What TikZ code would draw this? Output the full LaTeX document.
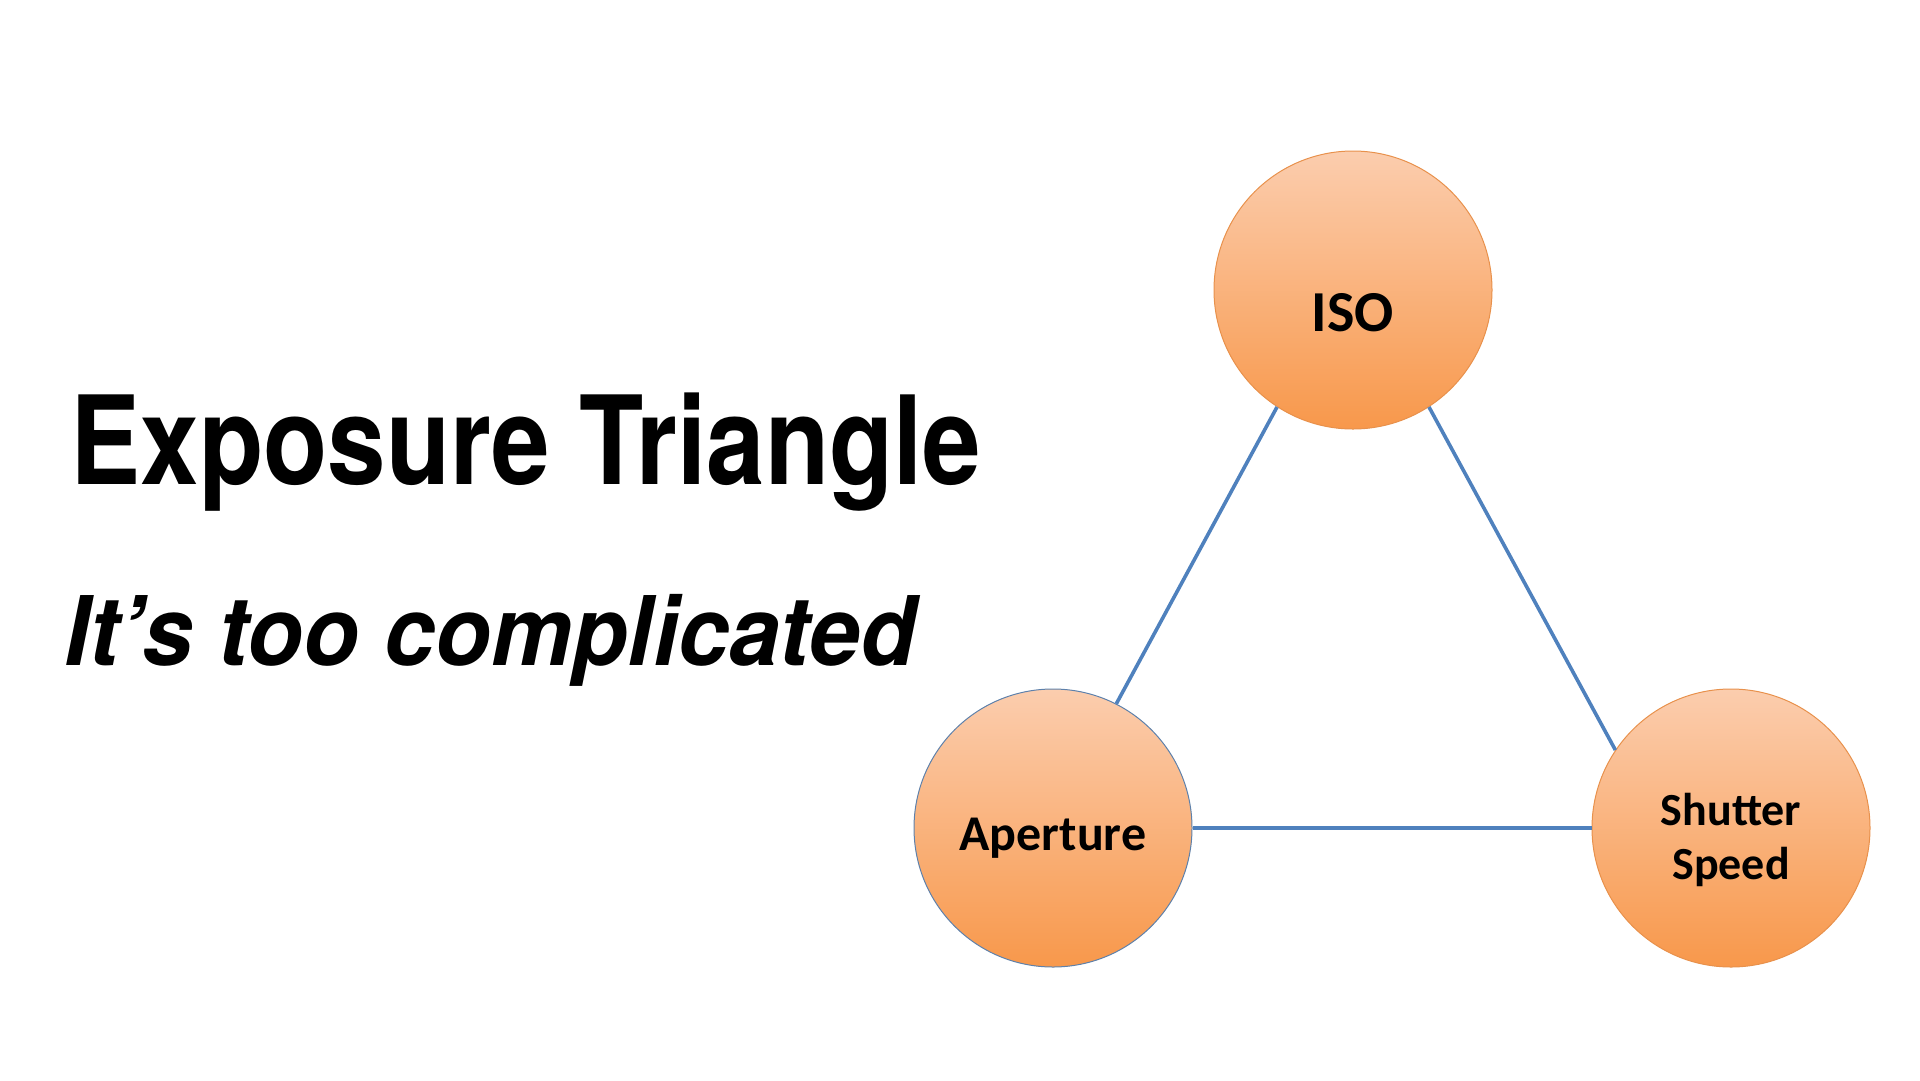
\documentclass[tikz,border=0pt]{standalone}
\usepackage{fontspec}
\usepackage{graphicx}
\usepackage{tikz}
\usetikzlibrary{arrows,positioning}
\setmainfont{TeX Gyre Heros}
\newfontfamily\calfont{Carlito}
\definecolor{peachtop}{HTML}{FBCDAE}
\definecolor{peachbot}{HTML}{F8984B}
\definecolor{ringorange}{HTML}{E8914C}
\definecolor{linkblue}{HTML}{4F81BD}

\begin{document}
\begin{tikzpicture}[x=1pt,y=-1pt,-,thick,
  main node/.style={circle,minimum size=278pt,inner sep=0pt,
        top color=peachtop,bottom color=peachbot,draw=ringorange,line width=1pt},
        word node/.style={align=center,font=\calfont\bfseries},
        link/.style={draw=linkblue,line width=3.6pt}]
  \useasboundingbox (0,0) rectangle (1920,1080);
  % title and subtitle
  \node[anchor=base west,inner sep=0pt] (title) at (70,484)
    {\scalebox{0.855}[1]{\fontsize{123}{123}\selectfont\bfseries Exposure Triangle}};
  \node[anchor=base west,inner sep=0pt] (sub) at (64,665)
    {\scalebox{0.95}[1]{\fontsize{96}{96}\selectfont\bfseries\itshape It’s too complicated}};

  \node[main node] (iso) at (1353,290) {};
  \node[main node,draw=linkblue!70!gray] (ap) at (1053,828) {};
  \node[main node] (ss) at (1731,828) {};

  \path[every edge/.style={link}]
    (iso.237) edge (ap.63)
    (iso.303) edge (ss.146)
    (ap.0) edge (ss.180);

  \node[word node,font=\calfont\bfseries\fontsize{58}{58}\selectfont] (isotxt) at (1353,313) {ISO};
  \node[word node,font=\calfont\bfseries\fontsize{50}{54}\selectfont] (aptxt) at (1053,838) {Aperture};
  \node[word node,font=\calfont\bfseries\fontsize{46}{54}\selectfont] (sstxt) at (1731,840) {Shutter\\Speed};
\end{tikzpicture}
\end{document}
